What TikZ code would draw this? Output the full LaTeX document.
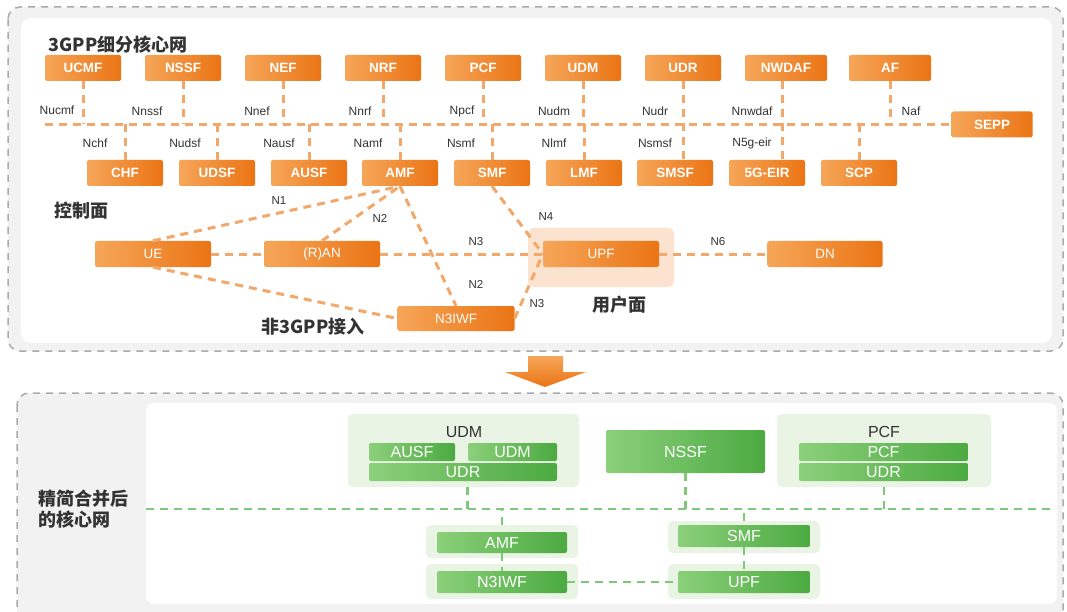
\documentclass[tikz,border=0pt]{standalone}
\usepackage{fontspec}
\setmainfont{Liberation Sans}
\newfontfamily\cjk{Noto Sans CJK SC}
\usetikzlibrary{positioning}
\definecolor{orlight}{HTML}{F6A659}
\definecolor{ordark}{HTML}{EB7414}
\definecolor{orline}{HTML}{F3A86B}
\definecolor{orpale}{HTML}{FBE3D0}
\definecolor{grlight}{HTML}{8BD07A}
\definecolor{grdark}{HTML}{4CAA41}
\definecolor{grline}{HTML}{7FC879}
\definecolor{grpale}{HTML}{E9F4E5}
\definecolor{panel}{HTML}{F2F2F2}
\definecolor{frame}{HTML}{ABABAB}
\definecolor{txt}{HTML}{333333}

\begin{document}
\begin{tikzpicture}[x=1pt,y=-1pt,
    nf node/.style={rectangle,rounded corners=2pt,left color=orlight,right color=ordark,text=white,inner sep=0pt,minimum width=76pt,minimum height=26pt,font=\fontsize{13.5}{15}\selectfont\bfseries},
    plane node/.style={nf node,minimum width=116pt,font=\fontsize{13.5}{15}\selectfont},
    if label/.style={text=txt,font=\fontsize{12}{14}\selectfont},
    ref label/.style={text=txt,font=\fontsize{11.5}{13}\selectfont},
    cn label/.style={text=txt,font=\cjk\bfseries\fontsize{18}{21}\selectfont},
    link/.style={draw=orline,line width=3pt,dash pattern=on 8pt off 6pt},
    green link/.style={draw=grline,line width=2.5pt,dash pattern=on 8pt off 6pt},
    merged node/.style={rectangle,rounded corners=2pt,left color=grlight,right color=grdark,text=white,inner sep=0pt,font=\fontsize{16}{18}\selectfont},
    group node/.style={rectangle,rounded corners=5pt,fill=grpale,inner sep=0pt},
    frame/.style={draw=frame,line width=1.5pt,dash pattern=on 7pt off 6pt,fill=panel,rounded corners=12pt}]
  \useasboundingbox (0,0) rectangle (1067,612);
  \clip (0,0) rectangle (1067,612);

  % panels
  \draw[frame] (8,7) rectangle (1063,351);
  \fill[white,rounded corners=10pt] (21,18) rectangle (1052,343);
  \draw[frame] (17,393) rectangle (1063,640);
  \fill[white,rounded corners=8pt] (146,403) rectangle (1057,604);

  \node[cn label,anchor=west] (title) at (45,45) {3GPP细分核心网};

  % service based interface
  \node[nf node] (ucmf) at (83,68) {UCMF};
  \node[nf node] (nssf) at (183,68) {NSSF};
  \node[nf node] (nef) at (283,68) {NEF};
  \node[nf node] (nrf) at (383,68) {NRF};
  \node[nf node] (pcf) at (483,68) {PCF};
  \node[nf node] (udm) at (583,68) {UDM};
  \node[nf node] (udr) at (683,68) {UDR};
  \node[nf node,minimum width=82pt] (nwdaf) at (786,68) {NWDAF};
  \node[nf node,minimum width=82pt] (af) at (890,68) {AF};
  \node[nf node,minimum width=81pt] (sepp) at (992,124.5) {SEPP};

  \node[nf node] (chf) at (125,173) {CHF};
  \node[nf node] (udsf) at (217,173) {UDSF};
  \node[nf node] (ausf) at (309,173) {AUSF};
  \node[nf node] (amf) at (400,173) {AMF};
  \node[nf node] (smf) at (492,173) {SMF};
  \node[nf node] (lmf) at (584,173) {LMF};
  \node[nf node] (smsf) at (675,173) {SMSF};
  \node[nf node] (eir) at (767,173) {5G-EIR};
  \node[nf node] (scp) at (859,173) {SCP};

  \coordinate (bus west) at (45,124.5);
  \draw[link] (bus west) -- (sepp.west);
  \foreach \n in {ucmf,nssf,nef,nrf,pcf,udm,af}
    \draw[link] (\n.south) -- (\n.south |- bus west);
  \foreach \n in {chf,udsf,ausf,amf,smf,lmf,scp}
    \draw[link] (\n.north) -- (\n.north |- bus west);
  \draw[link] (udr.south) -- (udr.south |- smsf.north);
  \draw[link] ([xshift=-4pt]nwdaf.south) -- ([xshift=-4pt]nwdaf.south |- eir.north);

  \node[if label] at (57,110) {Nucmf};
  \node[if label] at (147,111) {Nnssf};
  \node[if label] at (257,111) {Nnef};
  \node[if label] at (360,111) {Nnrf};
  \node[if label] at (462,111) {Npcf};
  \node[if label] at (554,111) {Nudm};
  \node[if label] at (655,111) {Nudr};
  \node[if label] at (752,111) {Nnwdaf};
  \node[if label] at (911,111) {Naf};
  \node[if label] at (95,143) {Nchf};
  \node[if label] at (185,143) {Nudsf};
  \node[if label] at (279,143) {Nausf};
  \node[if label] at (368,143) {Namf};
  \node[if label] at (461,143) {Nsmf};
  \node[if label] at (554,143) {Nlmf};
  \node[if label] at (655,143) {Nsmsf};
  \node[if label] at (752,143) {N5g-eir};

  % reference points
  \node[cn label,anchor=west] (cp) at (51,211) {控制面};
  \fill[orpale,rounded corners=6pt] (528,228) rectangle (674,287);
  \node[plane node] (ue) at (153,254) {UE};
  \node[plane node] (ran) at (322,254) {(R)AN};
  \node[plane node] (upf) at (601,254) {UPF};
  \node[plane node,minimum width=115pt] (dn) at (825,254) {DN};
  \node[plane node,minimum width=117pt,minimum height=25pt] (n3iwf) at (456,318.5) {N3IWF};
  \node[cn label] (up) at (619,305) {用户面};
  \node[cn label] (non3gpp) at (313,327) {非3GPP接入};

  \draw[link] (ue) -- (ran);
  \draw[link] (ran) -- (upf);
  \draw[link] (upf) -- (dn);
  \draw[link] (ue.north) -- (amf.south);
  \draw[link] (ran.north) -- (amf.south);
  \draw[link] (amf.south) -- (n3iwf.north);
  \draw[link] (ue.south) -- (n3iwf.west);
  \draw[link] (n3iwf.east) -- (upf.west);
  \draw[link] (smf.south) -- (upf.west);

  \node[ref label] at (279,201) {N1};
  \node[ref label] at (380,218) {N2};
  \node[ref label] at (476,242) {N3};
  \node[ref label] at (476,284) {N2};
  \node[ref label] at (546,217) {N4};
  \node[ref label] at (537,304) {N3};
  \node[ref label] at (718,242) {N6};

  % arrow down to merged core
  \shade[top color=orlight,bottom color=ordark] (528,356) -- (563,356) -- (563,372) -- (586,372)
    -- (545,387) -- (505,372) -- (528,372) -- cycle;

  % merged core
  \node[cn label,align=left] (merged) at (83,509) {精简合并后\\的核心网};

  \node[group node,minimum width=231pt,minimum height=73pt] (udm grp) at (463.5,450.5) {};
  \node[text=txt,font=\fontsize{16}{18}\selectfont] at (464,432) {UDM};
  \node[merged node,minimum width=86pt,minimum height=18pt] (ausf2) at (412,452) {AUSF};
  \node[merged node,minimum width=89pt,minimum height=18pt] (udm2) at (512.5,452) {UDM};
  \node[merged node,minimum width=188pt,minimum height=18pt] (udr2) at (463,472) {UDR};

  \node[merged node,minimum width=159pt,minimum height=43pt] (nssf2) at (685.5,451.5) {NSSF};

  \node[group node,minimum width=214pt,minimum height=73pt] (pcf grp) at (884,450.5) {};
  \node[text=txt,font=\fontsize{16}{18}\selectfont] at (884,432) {PCF};
  \node[merged node,minimum width=169pt,minimum height=18pt] (pcf2) at (883.5,452) {PCF};
  \node[merged node,minimum width=169pt,minimum height=18pt] (udr3) at (883.5,472) {UDR};

  \node[group node,minimum width=152pt,minimum height=33pt] (amf grp) at (502,541.5) {};
  \node[merged node,minimum width=130pt,minimum height=21pt] (amf2) at (502,542.5) {AMF};
  \node[group node,minimum width=152pt,minimum height=35pt] (n3iwf grp) at (502,581.5) {};
  \node[merged node,minimum width=130pt,minimum height=22pt] (n3iwf2) at (502,582) {N3IWF};
  \node[group node,minimum width=152pt,minimum height=32pt] (smf grp) at (744,537) {};
  \node[merged node,minimum width=132pt,minimum height=22pt] (smf2) at (744,536) {SMF};
  \node[group node,minimum width=152pt,minimum height=35pt] (upf grp) at (744,581.5) {};
  \node[merged node,minimum width=132pt,minimum height=22pt] (upf2) at (744,582) {UPF};

  \coordinate (sbi west) at (146,509);
  \coordinate (sbi east) at (1052,509);
  \draw[green link] (sbi west) -- (sbi east);
  \draw[green link] ([xshift=4pt]udm grp.south) -- ([xshift=4pt]udm grp.south |- sbi west);
  \draw[green link] (nssf2.south) -- (nssf2.south |- sbi west);
  \draw[green link] (pcf grp.south) -- (pcf grp.south |- sbi west);
  \draw[green link] (amf grp.north) -- (amf grp.north |- sbi west);
  \draw[green link] (smf grp.north) -- (smf grp.north |- sbi west);
  \draw[green link] (amf2.south) -- (n3iwf2.north);
  \draw[green link] (smf2.south) -- (upf2.north);
  \draw[green link] (n3iwf2.east) -- (upf2.west);
\end{tikzpicture}
\end{document}
